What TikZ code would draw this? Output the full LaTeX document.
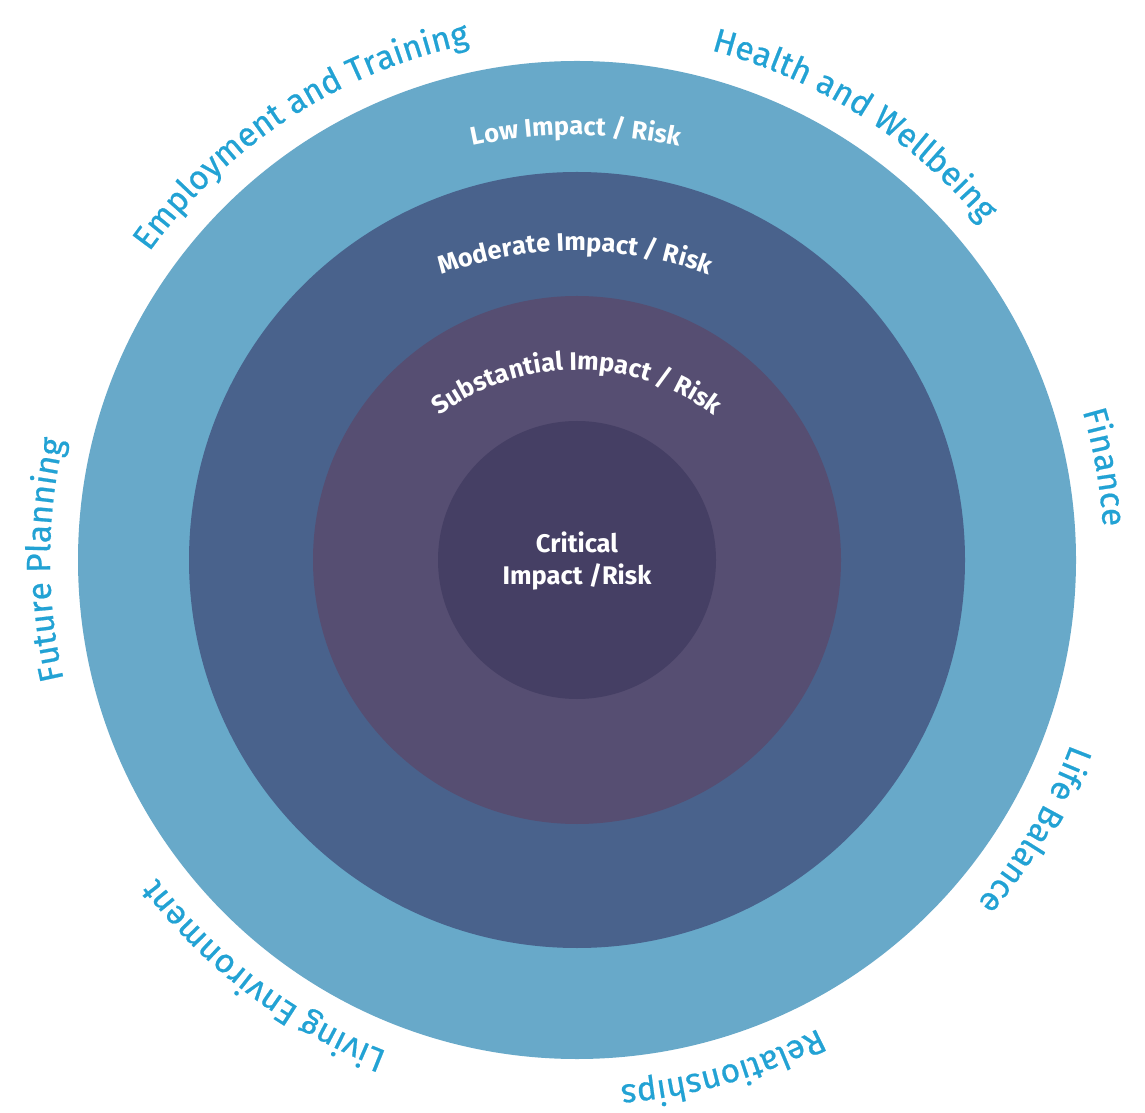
\documentclass[tikz,border=0pt]{standalone}
\usepackage{fontspec}
\setmainfont{Fira Sans}
\newfontfamily\olfam[FakeBold=0.6]{Fira Sans}
\usetikzlibrary{decorations.text,calc}
\definecolor{ringA}{HTML}{68A9C9}
\definecolor{ringB}{HTML}{49628C}
\definecolor{ringC}{HTML}{564E72}
\definecolor{ringD}{HTML}{453F64}
\definecolor{lbl}{HTML}{22A2D4}
\newcommand\olfnt{\olfam\fontsize{33.5}{40}\selectfont\color{lbl}}
\newcommand\ilfnt{\bfseries\fontsize{25.5}{30}\selectfont\color{white}}
\begin{document}
\begin{tikzpicture}[x=1pt,y=1pt,
  ring/.style={circle, inner sep=0pt, draw=none},
  arclbl/.style={decorate, decoration={text along path, text align=center, text={#1}}}
]
\useasboundingbox (0,0) rectangle (1145,1112);
\fill[white] (0,0) rectangle (1145,1112);
\coordinate (c) at (577,552);
\node[ring, fill=ringA, minimum size=998pt] (low) at (c) {};
\node[ring, fill=ringB, minimum size=776pt] (moderate) at (c) {};
\node[ring, fill=ringC, minimum size=528pt] (substantial) at (c) {};
\node[ring, fill=ringD, minimum size=278pt] (critical) at (c) {};
\node[align=center, text=white, font=\bfseries\fontsize{25.5}{32}\selectfont] (crittext) at (577,551) {Critical\\Impact /Risk};
% inner ring labels
\coordinate (cl) at (576,489);
\coordinate (cm) at (575,471);
\coordinate (cs) at (577,514);
\path[arclbl={|\ilfnt|Low Impact / Risk}] ($(cl)+(115:488)$) arc[start angle=115, end angle=65, radius=488];
\path[arclbl={|\ilfnt|Moderate Impact / Risk}] ($(cm)+(120:390)$) arc[start angle=120, end angle=60, radius=390];
\path[arclbl={|\ilfnt|Substantial Impact / Risk}] ($(cs)+(145:228)$) arc[start angle=145, end angle=35, radius=228];
% outer labels
\path[arclbl={|\olfnt|Employment and Training}] ($(c)+(155:527)$) arc[start angle=155, end angle=91, radius=527];
\path[arclbl={|\olfnt|Health and Wellbeing}] ($(c)+(87.5:527)$) arc[start angle=87.5, end angle=27.5, radius=527];
\path[arclbl={|\olfnt|Finance}] ($(c)+(30:527)$) arc[start angle=30, end angle=-10, radius=527];
\path[arclbl={|\olfnt|Life Balance}] ($(c)+(-1:527)$) arc[start angle=-1, end angle=-60, radius=527];
\path[arclbl={|\olfnt|Relationships}] ($(c)+(-44:527)$) arc[start angle=-44, end angle=-104, radius=527];
\path[arclbl={|\olfnt|Living Environment}] ($(c)+(-97:527)$) arc[start angle=-97, end angle=-157, radius=527];
\path[arclbl={|\olfnt|Future Planning}] ($(c)+(210:527)$) arc[start angle=210, end angle=150, radius=527];
\end{tikzpicture}
\end{document}
